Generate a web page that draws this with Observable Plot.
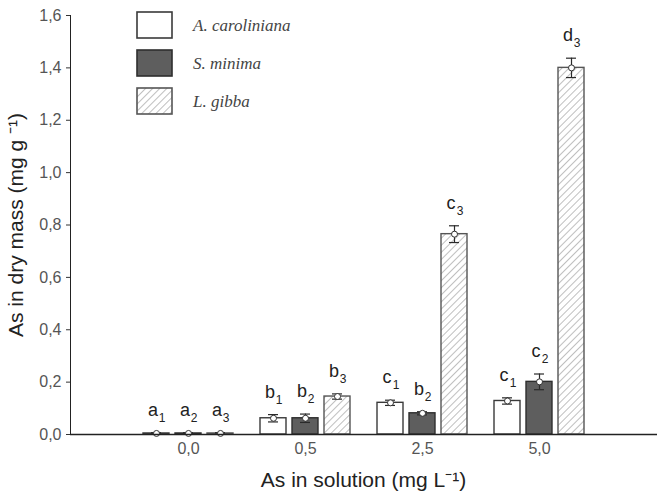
<!DOCTYPE html>
<html>
<head>
<meta charset="utf-8">
<script src="https://cdn.jsdelivr.net/npm/d3@7"></script>
<script src="https://cdn.jsdelivr.net/npm/@observablehq/plot@0.6"></script>
<style>
  body { margin: 0; background: #fff; }
  #chart { position: relative; width: 661px; height: 495px; }
</style>
</head>
<body>
<div id="chart"></div>
<script>
// Arsenic content of three aquatic macrophytes vs. arsenic in solution
const concentrations = ["0,0", "0,5", "2,5", "5,0"];
const species = ["A. caroliniana", "S. minima", "L. gibba"];

// mean As in dry mass (mg g-1) and standard error, per concentration
const carolinianaMean = [0.004, 0.062, 0.121, 0.128];
const carolinianaErr  = [0.003, 0.014, 0.010, 0.012];
const minimaMean      = [0.004, 0.062, 0.081, 0.201];
const minimaErr       = [0.003, 0.016, 0.006, 0.030];
const gibbaMean       = [0.004, 0.145, 0.765, 1.400];
const gibbaErr        = [0.003, 0.010, 0.032, 0.037];

// significance letters and their subscripts
const carolinianaLetters = ["a", "b", "c", "c"];
const minimaLetters      = ["a", "b", "b", "c"];
const gibbaLetters       = ["a", "b", "c", "d"];
const letterSubs = ["1", "2", "3"];

const yTicks = [0, 0.2, 0.4, 0.6, 0.8, 1.0, 1.2, 1.4, 1.6];
const yLabel = "As in dry mass (mg g \u207B\u00B9)";
const xLabel = "As in solution (mg L\u207B\u00B9)";

const means = [carolinianaMean, minimaMean, gibbaMean];
const errs = [carolinianaErr, minimaErr, gibbaErr];
const letters = [carolinianaLetters, minimaLetters, gibbaLetters];

const seriesStyle = [
  {fill: "white", stroke: "#3a3a3a"},
  {fill: "#5e5e5e", stroke: "#2e2e2e"},
  {fill: "url(#hatch)", stroke: "#555"}
];

const rows = species.map((name, s) => concentrations.map((c, i) => ({
  group: c, species: name, value: means[s][i], err: errs[s][i],
  letter: letters[s][i], sub: letterSubs[s]
})));

// each group band is 90px: three 26px bars separated by 6px
const barW = 26, gap = 6, band = 90;
const marks = [];
rows.forEach((data, s) => {
  const left = s * (barW + gap);
  const right = band - left - barW;
  const off = left + barW / 2 - band / 2;
  marks.push(
    Plot.barY(data, {x: "group", y: "value", insetLeft: left, insetRight: right,
      fill: seriesStyle[s].fill, stroke: seriesStyle[s].stroke, strokeWidth: 1.4}),
    Plot.ruleX(data, {x: "group", y1: d => d.value - d.err, y2: d => d.value + d.err,
      dx: off, stroke: "#2a2a2a", strokeWidth: 1.2}),
    Plot.tickY(data, {x: "group", y: d => d.value + d.err, insetLeft: left + 8, insetRight: right + 8,
      stroke: "#2a2a2a", strokeWidth: 1.2}),
    Plot.tickY(data, {x: "group", y: d => d.value - d.err, insetLeft: left + 8, insetRight: right + 8,
      stroke: "#2a2a2a", strokeWidth: 1.2}),
    Plot.dot(data, {x: "group", y: "value", dx: off, r: 3, fill: "white", stroke: "#333", strokeWidth: 1}),
    Plot.text(data, {x: "group", y: d => d.value + d.err, text: "letter", dx: off - 3.5, dy: -17,
      lineAnchor: "bottom", fontSize: 18, fill: "#222"}),
    Plot.text(data, {x: "group", y: d => d.value + d.err, text: "sub", dx: off + 5.5, dy: -11,
      lineAnchor: "bottom", fontSize: 12, fill: "#222"})
  );
});

const fmt = d => d.toFixed(1).replace(".", ",");

const chart = Plot.plot({
  width: 661,
  height: 495,
  marginLeft: 70,
  marginRight: 4,
  marginTop: 15,
  marginBottom: 61,
  style: {fontFamily: "Liberation Sans, Arial, sans-serif", background: "white"},
  x: {type: "band", domain: concentrations, paddingInner: 0.233, paddingOuter: 0.617},
  y: {domain: [0, 1.6]},
  marks: [
    Plot.axisY(yTicks, {tickSize: 4, tickPadding: 5, tickFormat: fmt, fontSize: 16, fill: "#555",
      stroke: "#333", label: null}),
    Plot.axisX({tickSize: 0, tickPadding: 8, fontSize: 16, fill: "#555", label: null}),
    Plot.frame({anchor: "left", stroke: "#222"}),
    ...marks,
    Plot.ruleY([0], {stroke: "#222", strokeWidth: 1.3})
  ]
});

const svg = d3.select(chart);

// diagonal hatch used by L. gibba
const defs = svg.insert("defs", ":first-child");
defs.append("pattern")
  .attr("id", "hatch")
  .attr("patternUnits", "userSpaceOnUse")
  .attr("width", 5).attr("height", 5)
  .attr("patternTransform", "rotate(45)")
  .call(p => {
    p.append("rect").attr("width", 5).attr("height", 5).attr("fill", "white");
    p.append("line").attr("x1", 0).attr("y1", 0).attr("x2", 0).attr("y2", 5)
      .attr("stroke", "#8a8a8a").attr("stroke-width", 1.1);
  });

// axis titles
svg.append("text")
  .attr("transform", "translate(23,225) rotate(-90)")
  .attr("text-anchor", "middle").attr("font-size", 21).attr("fill", "#222")
  .text(yLabel);
svg.append("text")
  .attr("x", 363.5).attr("y", 487)
  .attr("text-anchor", "middle").attr("font-size", 21).attr("fill", "#222")
  .text(xLabel);

// legend inside the plot area
const legend = svg.append("g").attr("class", "legend").attr("text-anchor", "start");
species.forEach((name, s) => {
  const y = 12 + s * 38;
  legend.append("rect").attr("x", 137).attr("y", y).attr("width", 35).attr("height", 26)
    .attr("fill", seriesStyle[s].fill).attr("stroke", seriesStyle[s].stroke).attr("stroke-width", 1.6);
  legend.append("text").attr("x", 193).attr("y", y + 13).attr("dy", "0.35em")
    .attr("font-family", "Liberation Serif, Times New Roman, serif").attr("font-style", "italic")
    .attr("font-size", 17).attr("fill", "#444").text(name);
});

document.getElementById("chart").appendChild(chart);
</script>
</body>
</html>
